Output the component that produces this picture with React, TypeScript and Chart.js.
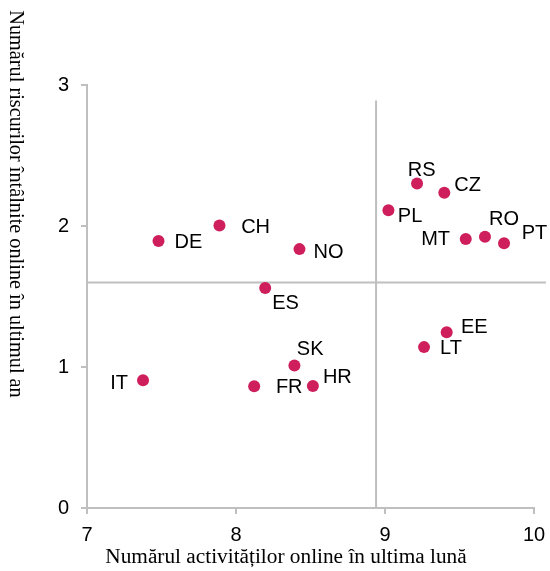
import React, { useEffect, useRef } from "react";
import { Chart, registerables } from "chart.js";

Chart.register(...registerables);

const countries = ["IT", "DE", "CH", "NO", "ES", "SK", "FR", "HR", "RS", "CZ", "PL", "MT", "RO", "PT", "EE", "LT"];
const activities = [7.376, 7.48, 7.889, 8.426, 8.196, 8.392, 8.122, 8.516, 9.215, 9.398, 9.023, 9.542, 9.671, 9.799, 9.414, 9.262];
const risks = [0.906, 1.893, 2.004, 1.836, 1.561, 1.011, 0.864, 0.866, 2.302, 2.236, 2.111, 1.907, 1.923, 1.877, 1.247, 1.141];

const xTicks = [7, 8, 9, 10];
const yTicks = [0, 1, 2, 3];

const verticalLineX = [8.94, 8.94];
const verticalLineY = [0, 2.89];
const horizontalLineX = [7, 10.08];
const horizontalLineY = [1.6, 1.6];

const xTitle = "Numărul activităților online în ultima lună";
const yTitle = "Numărul riscurilor întâlnite online în ultimul an";

// label placement (layout only): [dx, dy, align]
const labelPlacement: [number, number, CanvasTextAlign][] = [
  [-15, 3, "right"],
  [16, 1, "left"],
  [21.7, 2, "left"],
  [14, 3, "left"],
  [7, 16, "left"],
  [2.4, -16, "left"],
  [21.7, 1.3, "left"],
  [10, -8.4, "left"],
  [4.7, -12.7, "center"],
  [10, -7, "left"],
  [9.4, 5.7, "left"],
  [-15.7, 0, "right"],
  [4, -17.7, "left"],
  [17.7, -10, "left"],
  [14.3, -4.3, "left"],
  [16, 1.3, "left"],
];

const DOT = "rgb(206, 30, 91)";
const GRAY = "#bfbfbf";
const SANS = "'Liberation Sans', Arial, sans-serif";
const SERIF = "'Liberation Serif', 'Times New Roman', serif";

const labelPlugin = {
  id: "pointLabels",
  afterDatasetsDraw(chart: any) {
    const ctx = chart.ctx;
    const meta = chart.getDatasetMeta(0);
    ctx.save();
    ctx.font = `20px ${SANS}`;
    ctx.fillStyle = "#000";
    ctx.textBaseline = "middle";
    meta.data.forEach((el: any, i: number) => {
      const [dx, dy, align] = labelPlacement[i];
      ctx.textAlign = align;
      ctx.fillText(countries[i], el.x + dx, el.y + dy);
    });
    ctx.restore();
  },
};

const titlePlugin = {
  id: "axisTitles",
  afterDraw(chart: any) {
    const ctx = chart.ctx;
    ctx.save();
    ctx.fillStyle = "#000";
    ctx.textAlign = "center";
    ctx.textBaseline = "alphabetic";
    ctx.font = `21.3px ${SERIF}`;
    ctx.fillText(xTitle, 286, 563);
    ctx.translate(15, 204);
    ctx.rotate(Math.PI / 2);
    ctx.textBaseline = "middle";
    ctx.font = `20.3px ${SERIF}`;
    ctx.fillText(yTitle, 0, 0);
    ctx.restore();
  },
};

export default function App() {
  const ref = useRef<HTMLCanvasElement>(null);
  useEffect(() => {
    if (!ref.current) return;
    const chart = new Chart(ref.current, {
      type: "scatter",
      data: {
        datasets: [
          {
            data: activities.map((x, i) => ({ x, y: risks[i] })),
            backgroundColor: DOT,
            borderColor: DOT,
            borderWidth: 0,
            pointRadius: 6,
          },
          {
            data: verticalLineX.map((x, i) => ({ x, y: verticalLineY[i] })),
            showLine: true,
            borderColor: GRAY,
            borderWidth: 2,
            pointRadius: 0,
            clip: false as any,
          },
          {
            data: horizontalLineX.map((x, i) => ({ x, y: horizontalLineY[i] })),
            showLine: true,
            borderColor: GRAY,
            borderWidth: 2,
            pointRadius: 0,
            clip: false as any,
          },
        ],
      },
      options: {
        responsive: false,
        animation: false,
        layout: { padding: { top: 85, right: 16, left: 0, bottom: 0 } },
        plugins: { legend: { display: false }, tooltip: { enabled: false } },
        scales: {
          x: {
            type: "linear",
            min: xTicks[0],
            max: xTicks[xTicks.length - 1],
            afterBuildTicks: (s: any) => {
              s.ticks = xTicks.map((v) => ({ value: v }));
            },
            afterFit: (s: any) => {
              s.height = 63;
              s.paddingLeft = 0;
              s.paddingRight = 0;
            },
            grid: { drawOnChartArea: false, color: GRAY, lineWidth: 2, tickLength: 6 },
            border: { color: GRAY, width: 2 },
            ticks: { color: "#000", font: { size: 20, family: SANS }, padding: 9 },
          },
          y: {
            type: "linear",
            min: yTicks[0],
            max: yTicks[yTicks.length - 1],
            afterBuildTicks: (s: any) => {
              s.ticks = yTicks.map((v) => ({ value: v }));
            },
            afterFit: (s: any) => {
              s.width = 87;
              s.paddingTop = 0;
              s.paddingBottom = 0;
            },
            grid: { drawOnChartArea: false, color: GRAY, lineWidth: 2, tickLength: 6 },
            border: { color: GRAY, width: 2 },
            ticks: { color: "#000", font: { size: 20, family: SANS }, padding: 12 },
          },
        },
      },
      plugins: [labelPlugin, titlePlugin],
    });
    return () => chart.destroy();
  }, []);
  return (
    <div style={{ position: "absolute", left: 0, top: 0, width: 550, height: 571, background: "#fff" }}>
      <canvas ref={ref} width={550} height={571} style={{ display: "block" }} />
    </div>
  );
}
